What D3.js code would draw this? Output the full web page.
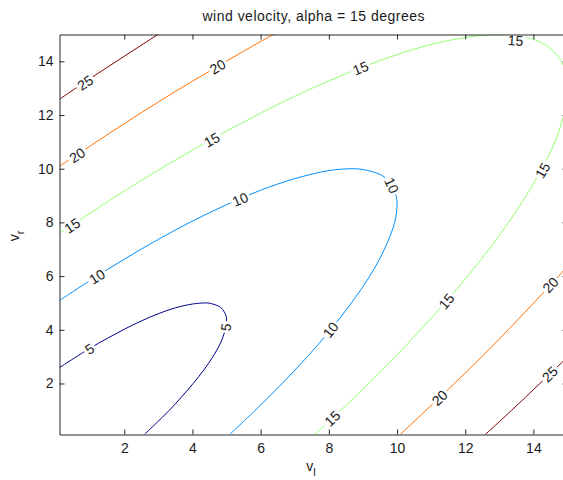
<!DOCTYPE html>
<html>
<head>
<meta charset="utf-8">
<script src="https://cdn.jsdelivr.net/npm/d3@7"></script>
<style>
  body { margin: 0; background: #fff; }
  svg { display: block; }
  text { font-family: "Liberation Sans", Arial, Helvetica, sans-serif; fill: #1a1a1a; }
</style>
</head>
<body>
<svg id="chart" width="563" height="480"></svg>
<script>
// Axis ranges and ticks (v_l across, v_r up)
const xDomain = [0.1, 15];
const yDomain = [0.1, 15];
const xTicks = [2, 4, 6, 8, 10, 12, 14];
const yTicks = [2, 4, 6, 8, 10, 12, 14];

// Contour levels of the wind velocity
const levels = [5, 10, 15, 20, 25];

// Contour paths as [v_l, v_r] points
const contour5 = [[0.1,2.59],[0.5,2.92],[1,3.32],[1.5,3.68],[2,4.02],[2.5,4.33],[3,4.6],[3.5,4.82],[4,4.96],[4.33,5.0],[4.5,4.99],[4.75,4.89],[4.83,4.83],[4.89,4.75],[4.99,4.5],[5.0,4.33],[4.96,4],[4.82,3.5],[4.6,3],[4.33,2.5],[4.02,2],[3.68,1.5],[3.32,1],[2.92,0.5],[2.59,0.1]];
const contour10 = [[0.1,5.09],[1,5.84],[2,6.63],[3,7.37],[4,8.05],[5,8.66],[6,9.2],[7,9.63],[8,9.93],[8.66,10.0],[9,9.97],[9.5,9.79],[9.66,9.66],[9.79,9.5],[9.97,9],[10.0,8.66],[9.93,8],[9.63,7],[9.2,6],[8.66,5],[8.05,4],[7.37,3],[6.63,2],[5.84,1],[5.09,0.1]];
const contour15 = [[0.1,7.59],[1,8.35],[2,9.17],[3,9.95],[4,10.69],[5,11.4],[6,12.07],[7,12.7],[8,13.27],[9,13.79],[10,14.25],[11,14.63],[12,14.89],[12.5,14.97],[12.99,15.0],[13.5,14.96],[14,14.82],[14.25,14.68],[14.49,14.49],[14.68,14.25],[14.82,14],[14.96,13.5],[15.0,12.99],[14.97,12.5],[14.89,12],[14.63,11],[14.25,10],[13.79,9],[13.27,8],[12.7,7],[12.07,6],[11.4,5],[10.69,4],[9.95,3],[9.17,2],[8.35,1],[7.59,0.1]];
const contour20Upper = [[0.1,10.09],[1,10.85],[2,11.68],[3,12.49],[4,13.26],[5,14.01],[6,14.74],[7,15.43]];
const contour20Lower = [[10.09,0.1],[10.85,1],[11.68,2],[12.49,3],[13.26,4],[14.01,5],[14.74,6],[15.43,7]];
const contour25Upper = [[0.1,12.59],[1,13.36],[2,14.19],[3,15.01],[3.5,15.41]];
const contour25Lower = [[12.59,0.1],[13.36,1],[14.19,2],[15.01,3],[15.41,3.5]];

const contourLines = [
  { level: 5,  points: contour5 },
  { level: 10, points: contour10 },
  { level: 15, points: contour15 },
  { level: 20, points: contour20Upper },
  { level: 20, points: contour20Lower },
  { level: 25, points: contour25Upper },
  { level: 25, points: contour25Lower }
];

// Inline labels: [level, v_l, v_r]
const contourLabels = [
  [25, 0.85, 13.2], [20, 0.62, 10.5], [20, 4.74, 13.8],
  [15, 8.93, 13.75], [15, 4.57, 11.08], [15, 0.47, 7.88], [15, 13.48, 14.78],
  [15, 14.27, 9.94], [15, 11.45, 5.06], [15, 8.1, 0.7],
  [10, 1.2, 5.98], [10, 5.4, 8.86], [10, 9.85, 9.38], [10, 8.05, 4.0],
  [5, 0.98, 3.29], [5, 4.98, 4.1],
  [20, 11.25, 1.47], [20, 14.5, 5.67], [25, 14.48, 2.35]
];

const titleText = "wind velocity, alpha = 15 degrees";

const svg = d3.select("#chart");
const plotLeft = 59.5, plotRight = 567.5, plotTop = 34.5, plotBottom = 434.5;

const x = d3.scaleLinear().domain(xDomain).range([plotLeft, plotRight]);
const y = d3.scaleLinear().domain(yDomain).range([plotBottom, plotTop]);

// Jet colormap, 64 entries (1-based index)
function jet(i) {
  const r = i <= 24 ? 0 : i <= 40 ? (i - 24) / 16 : i <= 56 ? 1 : 1 - (i - 56) / 16;
  const g = i <= 8 ? 0 : i <= 24 ? (i - 8) / 16 : i <= 40 ? 1 : i <= 56 ? 1 - (i - 40) / 16 : 0;
  const b = i <= 8 ? (i + 8) / 16 : i <= 24 ? 1 : i <= 40 ? 1 - (i - 24) / 16 : 0;
  return d3.rgb(r * 255, g * 255, b * 255).formatHex();
}
const colorIndex = d3.scaleLinear().domain([levels[0], levels[levels.length - 1]]).range([0, 64]);
const color = v => jet(Math.min(64, Math.floor(colorIndex(v)) + 1));

svg.append("clipPath").attr("id", "plot-clip")
  .append("rect").attr("x", plotLeft).attr("y", plotTop)
  .attr("width", plotRight - plotLeft).attr("height", plotBottom - plotTop);

const line = d3.line()
  .x(d => x(d[0])).y(d => y(d[1]))
  .curve(d3.curveCatmullRom.alpha(0.5));

const plot = svg.append("g").attr("clip-path", "url(#plot-clip)");

plot.selectAll("path.contour")
  .data(contourLines)
  .join("path")
  .attr("class", "contour")
  .attr("d", d => line(d.points))
  .attr("fill", "none")
  .attr("stroke", d => color(d.level))
  .attr("stroke-width", 1);

// Orientation of the contour at a label, in screen space
function labelAngle(level, lx, ly) {
  const px = x(lx), py = y(ly);
  let best = null, bestDist = Infinity;
  contourLines.filter(c => c.level === level).forEach(c => {
    for (let i = 0; i < c.points.length - 1; i++) {
      const ax = x(c.points[i][0]), ay = y(c.points[i][1]);
      const bx = x(c.points[i + 1][0]), by = y(c.points[i + 1][1]);
      const dx = bx - ax, dy = by - ay;
      const t = Math.max(0, Math.min(1, ((px - ax) * dx + (py - ay) * dy) / (dx * dx + dy * dy)));
      const qx = ax + t * dx, qy = ay + t * dy;
      const dist = (px - qx) ** 2 + (py - qy) ** 2;
      if (dist < bestDist) { bestDist = dist; best = [dx, dy]; }
    }
  });
  let a = Math.atan2(best[1], best[0]) * 180 / Math.PI;
  if (a > 90) a -= 180;
  if (a <= -90) a += 180;
  return a;
}

const labelG = svg.append("g").attr("clip-path", "url(#plot-clip)");
contourLabels.forEach(([lev, lx, ly]) => {
  const g = labelG.append("g")
    .attr("transform", `translate(${x(lx)},${y(ly)}) rotate(${labelAngle(lev, lx, ly)})`);
  const rect = g.append("rect").attr("fill", "#fff");
  const t = g.append("text")
    .attr("text-anchor", "middle")
    .attr("dy", "0.36em")
    .attr("font-size", 14)
    .text(lev);
  const w = t.node().getComputedTextLength();
  rect.attr("x", -w / 2 - 2).attr("y", -6).attr("width", w + 4).attr("height", 12);
});

// Axes box with inward ticks on all four sides
const axisColor = "#262626";
function styleAxis(g) {
  g.selectAll("path.domain").attr("stroke", axisColor).attr("stroke-width", 1);
  g.selectAll(".tick line").attr("stroke", axisColor).attr("stroke-width", 1);
  g.selectAll(".tick text").attr("font-size", 14).attr("fill", "#1a1a1a")
    .attr("font-family", '"Liberation Sans", Arial, Helvetica, sans-serif');
}

svg.append("g").attr("transform", `translate(0,${plotBottom})`)
  .call(d3.axisBottom(x).tickValues(xTicks).tickSize(-5).tickSizeOuter(0).tickPadding(9).tickFormat(d3.format("d")))
  .call(styleAxis);
svg.append("g").attr("transform", `translate(0,${plotTop})`)
  .call(d3.axisTop(x).tickValues(xTicks).tickSize(-5).tickSizeOuter(0).tickFormat(""))
  .call(styleAxis);
svg.append("g").attr("transform", `translate(${plotLeft},0)`)
  .call(d3.axisLeft(y).tickValues(yTicks).tickSize(-5).tickSizeOuter(0).tickPadding(6).tickFormat(d3.format("d")))
  .call(styleAxis);
svg.append("g").attr("transform", `translate(${plotRight},0)`)
  .call(d3.axisRight(y).tickValues(yTicks).tickSize(-5).tickSizeOuter(0).tickFormat(""))
  .call(styleAxis);

// Title
svg.append("text")
  .attr("x", (plotLeft + plotRight) / 2).attr("y", 21)
  .attr("text-anchor", "middle")
  .attr("font-size", 14)
  .attr("textLength", 222).attr("lengthAdjust", "spacing")
  .text(titleText);

// Axis labels: v_l and v_r
const xl = svg.append("text").attr("x", 311).attr("y", 471).attr("text-anchor", "middle").attr("font-size", 14);
xl.append("tspan").text("v");
xl.append("tspan").attr("font-size", 11).attr("dy", 5).text("l");

const yl = svg.append("text").attr("transform", "translate(19,236) rotate(-90)")
  .attr("text-anchor", "middle").attr("font-size", 14);
yl.append("tspan").text("v");
yl.append("tspan").attr("font-size", 11).attr("dy", 5).text("r");
</script>
</body>
</html>
